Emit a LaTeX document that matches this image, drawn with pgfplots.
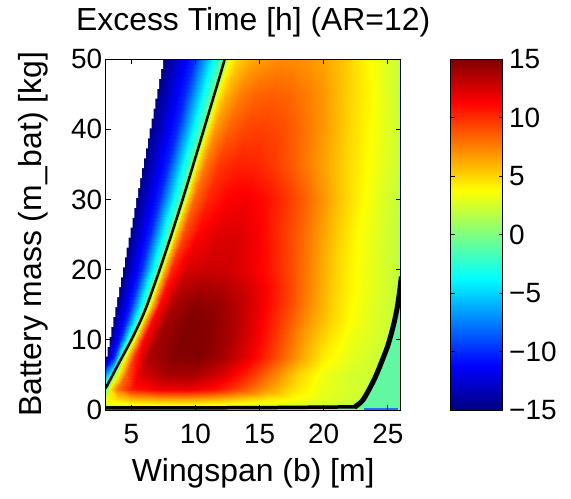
\documentclass[border=0pt]{standalone}
\usepackage{fontspec}
\setmainfont{Liberation Sans}
\usepackage{pgfplots}
\pgfplotsset{compat=1.18}
\definecolor{aquam}{RGB}{98,248,162}
\definecolor{bitblue}{RGB}{30,110,255}
\begin{document}
\begin{tikzpicture}
\useasboundingbox (0,0) rectangle (571bp,499bp);
\begin{axis}[
  at={(105.7bp,89bp)}, anchor=south west,
  scale only axis, width=295bp, height=351bp,
  xmin=3, xmax=26, ymin=0, ymax=50,
  xtick={5,10,15,20,25}, ytick={0,10,20,30,40,50},
  tick align=inside, major tick length=5bp,
  tick style={black, line width=0.8bp},
  axis line style={line width=0.8bp},
  ticklabel style={font=\fontsize{28}{30}\selectfont},
  xticklabel style={yshift=-11bp},
  /pgf/number format/assume math mode=true,
  xlabel={Wingspan (b) [m]},
  ylabel={Battery mass (m\_bat) [kg]},
  xlabel style={font=\fontsize{32}{36}\selectfont, at={(axis description cs:0.5,-0.18)}, anchor=center},
  ylabel style={font=\fontsize{32}{36}\selectfont, at={(axis description cs:-0.245,0.5)}, anchor=center},
  title={Excess Time [h] (AR=12)},
  title style={font=\fontsize{32}{36}\selectfont, at={(axis description cs:0.5,1.063)}, anchor=base},
  colormap/jet, point meta min=-15, point meta max=15,
  axis on top,
]
\addplot[surf, shader=interp, mesh/cols=17, point meta=explicit]
 table[x=x, y=y, meta=z, row sep=\\] {
x y z\\
3 0 -1\\ 3 0 -1\\ 3 0 -1\\ 3 0 -1\\ 3.3 0 -1\\ 3.9 0 -1\\ 5.0 0 -1\\ 7.1 0 -1\\ 9.2 0 -1\\ 11.3 0 -1\\ 13.4 0 -1\\ 15.5 0 -1\\ 17.6 0 -1\\ 19.7 0 -1\\ 21.8 0 -1\\ 23.9 0 -1\\ 26 0 -1\\
3 0.6 2.5\\ 3 0.6 2.5\\ 3 0.6 2.5\\ 3 0.6 2.5\\ 3.3 0.6 2.6\\ 3.9 0.6 2.8\\ 5.0 0.6 3.0\\ 7.1 0.6 3.3\\ 9.2 0.6 3.3\\ 11.3 0.6 3.1\\ 13.4 0.6 2.9\\ 15.5 0.6 2.6\\ 17.6 0.6 2.35\\ 19.7 0.6 2.1\\ 21.8 0.6 1.9\\ 23.9 0.6 1.8\\ 26 0.6 1.7\\
3 1.5 3.8\\ 3 1.5 3.8\\ 3 1.5 3.8\\ 3 1.5 3.8\\ 3.3 1.5 4.2\\ 3.9 1.5 4.9\\ 5.0 1.5 5.8\\ 7.1 1.5 6.4\\ 9.2 1.5 6.5\\ 11.3 1.5 6.1\\ 13.4 1.5 5.3\\ 15.5 1.5 4.5\\ 17.6 1.5 3.7\\ 19.7 1.5 3.0\\ 21.8 1.5 2.45\\ 23.9 1.5 2.2\\ 26 1.5 2.0\\
3 3 0\\ 3 3 0\\ 3 3 0\\ 3 3 0\\ 3.3 3 4.5\\ 3.9 3 7.8\\ 5.0 3 10.5\\ 7.1 3 11.7\\ 9.2 3 11.9\\ 11.3 3 11.0\\ 13.4 3 9.2\\ 15.5 3 6.9\\ 17.6 3 4.7\\ 19.7 3 3.2\\ 21.8 3 2.6\\ 23.9 3 2.2\\ 26 3 2.0\\
3 5 -6\\ 3 5 -6\\ 3.33 5 -3.5\\ 3.65 5 0\\ 3.95 5 4\\ 4.55 5 8.5\\ 5.65 5 12.3\\ 7.69 5 13.8\\ 9.72 5 13.85\\ 11.76 5 12.6\\ 13.79 5 10.45\\ 15.83 5 7.85\\ 17.86 5 5.2\\ 19.9 5 3.3\\ 21.93 5 2.5\\ 23.97 5 2.2\\ 26 5 2.0\\
3 7.5 -15\\ 3 7.5 -15\\ 3.65 7.5 -10\\ 4.3 7.5 0\\ 4.6 7.5 4.5\\ 5.2 7.5 10\\ 6.3 7.5 13.7\\ 8.27 7.5 14.8\\ 10.24 7.5 14.9\\ 12.21 7.5 13.8\\ 14.18 7.5 11.8\\ 16.15 7.5 9.3\\ 18.12 7.5 6.5\\ 20.09 7.5 4.1\\ 22.06 7.5 3.0\\ 24.03 7.5 2.3\\ 26 7.5 2.0\\
3 10 -15\\ 3.25 10 -15\\ 4.13 10 -10\\ 5.0 10 0\\ 5.3 10 5\\ 5.9 10 11\\ 7.0 10 14\\ 8.9 10 15\\ 10.8 10 14.85\\ 12.7 10 13.7\\ 14.6 10 11.8\\ 16.5 10 9.3\\ 18.4 10 6.7\\ 20.3 10 4.5\\ 22.2 10 3.2\\ 24.1 10 2.5\\ 26 10 2.0\\
3 12.5 -15\\ 3.52 12.5 -15\\ 4.58 12.5 -10\\ 5.64 12.5 0\\ 5.94 12.5 5\\ 6.54 12.5 11\\ 7.64 12.5 14\\ 9.48 12.5 15\\ 11.31 12.5 14.7\\ 13.15 12.5 13.5\\ 14.98 12.5 11.6\\ 16.82 12.5 9.3\\ 18.66 12.5 6.9\\ 20.5 12.5 5.0\\ 22.33 12.5 3.5\\ 24.17 12.5 2.6\\ 26 12.5 2.0\\
3 15 -15\\ 3.78 15 -15\\ 5.0 15 -10\\ 6.22 15 0\\ 6.52 15 5\\ 7.12 15 11\\ 8.22 15 13.8\\ 10.0 15 14.7\\ 11.78 15 14.3\\ 13.56 15 13.2\\ 15.33 15 11.4\\ 17.11 15 9.4\\ 18.89 15 7.1\\ 20.67 15 5.1\\ 22.44 15 3.6\\ 24.22 15 2.6\\ 26 15 1.9\\
3 17.5 -15\\ 4.04 17.5 -15\\ 5.38 17.5 -10\\ 6.72 17.5 0\\ 7.02 17.5 5\\ 7.62 17.5 10.5\\ 8.72 17.5 13.2\\ 10.45 17.5 13.8\\ 12.18 17.5 13.5\\ 13.9 17.5 12.6\\ 15.63 17.5 11.1\\ 17.36 17.5 9.3\\ 19.09 17.5 7.1\\ 20.82 17.5 5.1\\ 22.54 17.5 3.7\\ 24.27 17.5 2.7\\ 26 17.5 1.8\\
3 20 -15\\ 4.31 20 -15\\ 5.76 20 -10\\ 7.2 20 0\\ 7.5 20 5\\ 8.1 20 10\\ 9.2 20 12.4\\ 10.88 20 12.8\\ 12.56 20 12.7\\ 14.24 20 11.8\\ 15.92 20 10.6\\ 17.6 20 8.9\\ 19.28 20 6.9\\ 20.96 20 5.0\\ 22.64 20 3.6\\ 24.32 20 2.7\\ 26 20 1.8\\
3 25 -15\\ 4.83 25 -15\\ 6.48 25 -10\\ 8.12 25 0\\ 8.42 25 5\\ 9.02 25 9\\ 10.12 25 11.2\\ 11.71 25 12.2\\ 13.3 25 12.3\\ 14.88 25 11.4\\ 16.47 25 10.0\\ 18.06 25 8.5\\ 19.65 25 6.8\\ 21.24 25 5.0\\ 22.82 25 3.6\\ 24.41 25 2.7\\ 26 25 1.8\\
3 30 -15\\ 5.36 30 -15\\ 7.18 30 -10\\ 9.0 30 0\\ 9.3 30 4.8\\ 9.9 30 8.2\\ 11.0 30 10.2\\ 12.5 30 11.3\\ 14.0 30 11.5\\ 15.5 30 10.9\\ 17.0 30 9.8\\ 18.5 30 8.4\\ 20.0 30 6.8\\ 21.5 30 5.2\\ 23.0 30 3.9\\ 24.5 30 2.8\\ 26 30 1.9\\
3 35 -15\\ 5.89 35 -15\\ 7.86 35 -10\\ 9.83 35 0\\ 10.13 35 4.5\\ 10.73 35 7.6\\ 11.83 35 9.6\\ 13.25 35 10.3\\ 14.66 35 10.2\\ 16.08 35 9.6\\ 17.5 35 8.6\\ 18.92 35 7.4\\ 20.33 35 6.2\\ 21.75 35 5.0\\ 23.17 35 4.0\\ 24.58 35 3.0\\ 26 35 2.1\\
3 40 -15\\ 6.41 40 -15\\ 8.53 40 -10\\ 10.64 40 0\\ 10.94 40 4.3\\ 11.54 40 6.8\\ 12.64 40 8.4\\ 13.98 40 9.3\\ 15.31 40 9.4\\ 16.65 40 9.1\\ 17.98 40 8.3\\ 19.32 40 7.3\\ 20.66 40 6.2\\ 21.99 40 5.0\\ 23.33 40 4.0\\ 24.66 40 3.0\\ 26 40 2.1\\
3 45 -15\\ 6.94 45 -15\\ 9.2 45 -10\\ 11.46 45 0\\ 11.76 45 4.0\\ 12.36 45 6.0\\ 13.46 45 7.5\\ 14.71 45 8.3\\ 15.97 45 8.5\\ 17.22 45 8.3\\ 18.48 45 7.7\\ 19.73 45 7.0\\ 20.98 45 5.9\\ 22.24 45 4.9\\ 23.49 45 4.0\\ 24.75 45 2.9\\ 26 45 2.0\\
3 50 -15\\ 7.47 50 -15\\ 9.89 50 -10\\ 12.3 50 0\\ 12.6 50 3.5\\ 13.2 50 5.0\\ 14.3 50 6.2\\ 15.47 50 6.8\\ 16.64 50 7.2\\ 17.81 50 7.1\\ 18.98 50 6.8\\ 20.15 50 6.3\\ 21.32 50 5.6\\ 22.49 50 4.6\\ 23.66 50 3.7\\ 24.83 50 2.8\\ 26 50 2.0\\
};
% undefined (white) region, staircase edge
\addplot[fill=white, draw=none] coordinates {
(3,7.60) (3.15,7.60) (3.15,9.01) (3.30,9.01) (3.30,10.43) (3.45,10.43) (3.45,11.84) (3.60,11.84) (3.60,13.25) (3.75,13.25) (3.75,14.67) (3.89,14.67) (3.89,16.08) (4.04,16.08) (4.04,17.49) (4.19,17.49) (4.19,18.90) (4.34,18.90) (4.34,20.32) (4.49,20.32) (4.49,21.73) (4.64,21.73) (4.64,23.14) (4.79,23.14) (4.79,24.56) (4.94,24.56) (4.94,25.97) (5.09,25.97) (5.09,27.38) (5.24,27.38) (5.24,28.80) (5.38,28.80) (5.38,30.21) (5.53,30.21) (5.53,31.62) (5.68,31.62) (5.68,33.03) (5.83,33.03) (5.83,34.45) (5.98,34.45) (5.98,35.86) (6.13,35.86) (6.13,37.27) (6.28,37.27) (6.28,38.69) (6.43,38.69) (6.43,40.10) (6.58,40.10) (6.58,41.51) (6.73,41.51) (6.73,42.93) (6.87,42.93) (6.87,44.34) (7.02,44.34) (7.02,45.75) (7.17,45.75) (7.17,47.16) (7.32,47.16) (7.32,48.58) (7.47,48.58) (7.47,50.5) (2.8,50.5) (2.8,7.60)
};
% region beyond the right-hand boundary
\addplot[fill=aquam, draw=none] coordinates {
(22.45,0.2) (23,1.3) (23.5,2.8) (24,4.6) (24.5,6.8) (25,9.2) (25.4,11.8) (25.7,14.3) (25.9,16.7) (26.05,19) (26.5,19) (26.5,0.2)
};
\addplot[bitblue, line width=1.2bp] coordinates {(23.1,0.15) (25.8,0.15)};
% zero contours
\addplot[black, line width=2.5bp, smooth] coordinates {
(3,3.1) (4,6.6) (5,10) (6,13.9) (7,18.9) (8,24.3) (9,30) (10,36) (11,42.1) (12,48.2) (12.35,50.5)
};
\addplot[black, line width=3.5bp] coordinates {
(2.9,0.3) (10,0.3) (16,0.35) (22.6,0.45)
};
\addplot[black, line width=5bp, smooth] coordinates {
(22.4,0.4) (23,1.3) (23.5,2.8) (24,4.6) (24.5,6.8) (25,9.2) (25.4,11.8) (25.7,14.3) (25.9,16.7) (26.05,19)
};
\end{axis}
% colour bar
\begin{axis}[
  at={(450.7bp,89bp)}, anchor=south west,
  scale only axis, width=52bp, height=351bp,
  xmin=0, xmax=1, ymin=-15, ymax=15,
  xtick=\empty, ytick={-15,-10,-5,0,5,10,15},
  yticklabels={−15,−10,−5,0,5,10,15},
  ytick pos=both, yticklabel pos=right,
  tick align=inside, major tick length=4bp,
  tick style={black, line width=0.8bp},
  axis line style={line width=0.8bp},
  yticklabel style={font=\fontsize{28}{30}\selectfont, xshift=3bp},
  colormap/jet, point meta min=-15, point meta max=15,
  axis on top,
]
\addplot[surf, shader=interp, mesh/cols=2, point meta=explicit]
 table[x=x, y=y, meta=z, row sep=\\] {
x y z\\
0 -15 -15\\ 1 -15 -15\\
0 -10 -10\\ 1 -10 -10\\
0 -5 -5\\ 1 -5 -5\\
0 0 0\\ 1 0 0\\
0 5 5\\ 1 5 5\\
0 10 10\\ 1 10 10\\
0 15 15\\ 1 15 15\\
};
\end{axis}
\end{tikzpicture}
\end{document}
